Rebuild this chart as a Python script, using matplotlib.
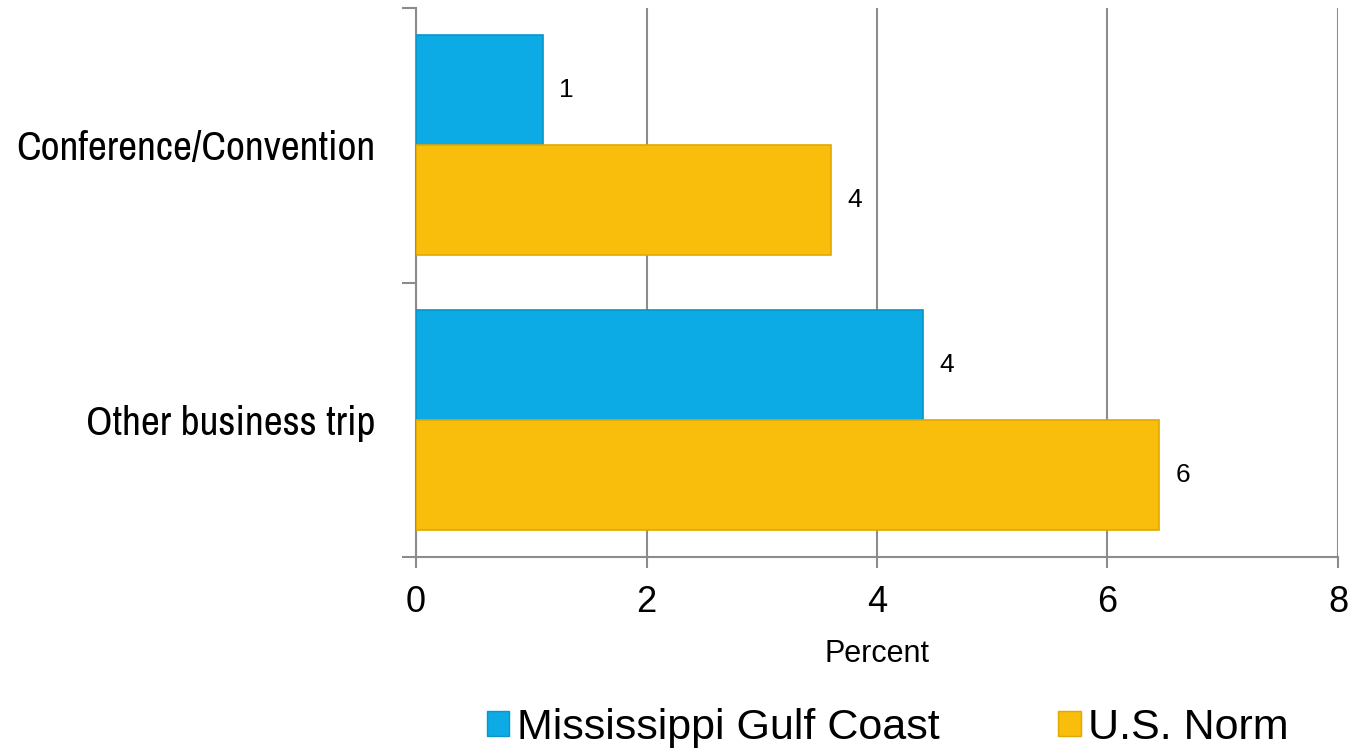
import matplotlib.pyplot as plt
from matplotlib.patches import Patch
from matplotlib import font_manager

categories = ['Conference/Convention', 'Other business trip']
mgc_values = [1.1, 4.4]
us_values = [3.6, 6.45]
mgc_labels = ['1', '4']
us_labels = ['4', '6']
x_ticks = [0, 2, 4, 6, 8]

BLUE = '#0CABE6'
YELLOW = '#F9BD0B'
GRAY = '#8C8C8C'

# pick the narrowest-looking regular face available for the category text
def find_narrow():
    fonts = [f for f in font_manager.fontManager.ttflist
             if f.style == 'normal' and f.weight in (400, 'normal', 'regular')]
    for test in (lambda f: f.name == 'Liberation Sans Narrow',
                 lambda f: 'Narrow' in f.name,
                 lambda f: f.stretch in ('extra-condensed', 'ultra-condensed'),
                 lambda f: f.stretch == 'condensed' or 'Condensed' in f.name,
                 lambda f: f.stretch == 'semi-condensed'):
        for f in fonts:
            if test(f):
                return font_manager.FontProperties(fname=f.fname)
    return font_manager.FontProperties(family='Liberation Sans')

plt.rcParams['font.family'] = ['Liberation Sans', 'DejaVu Sans']
narrow = find_narrow()

fig = plt.figure(figsize=(13.53, 7.48), dpi=100)
ax = fig.add_axes([0.3075, 0.2553, 0.6814, 0.734])

# fit the category text to the reference width (~360 px for the longest label)
renderer = fig.canvas.get_renderer()
probe_font = narrow.copy()
probe_font.set_size(30)
probe = fig.text(0, 0, categories[0], fontproperties=probe_font)
w = probe.get_window_extent(renderer).width
probe.remove()
cat_size = min(30, 30 * 360 / w)
cat_font = narrow.copy()
cat_font.set_size(cat_size)

centers = [1, 0]
h = 0.4
for i, cat in enumerate(categories):
    yc = centers[i]
    ax.barh(yc + h / 2, mgc_values[i], height=h, color=BLUE,
            edgecolor='#0995C9', linewidth=1.2, zorder=3)
    ax.barh(yc - h / 2, us_values[i], height=h, color=YELLOW,
            edgecolor='#E0A800', linewidth=1.2, zorder=3)
    ax.annotate(mgc_labels[i], (mgc_values[i], yc + h / 2), xytext=(12, 0),
                textcoords='offset points', va='center', ha='left', fontsize=19)
    ax.annotate(us_labels[i], (us_values[i], yc - h / 2), xytext=(12, 0),
                textcoords='offset points', va='center', ha='left', fontsize=19)

ax.set_xlim(0, 8)
ax.set_ylim(-0.5, 1.5)
ax.set_xticks(x_ticks)
ax.set_xticklabels([str(t) for t in x_ticks], fontsize=26)
ax.set_yticks([-0.5, 0.5, 1.5])
ax.set_yticklabels([])
ax.set_yticks(centers, minor=True)
ax.set_yticklabels(categories, minor=True, fontproperties=cat_font)
ax.tick_params(axis='y', which='minor', length=0, pad=29)
ax.tick_params(axis='y', which='major', length=10, width=1.5, color=GRAY)
ax.tick_params(axis='x', length=8, width=1.5, color=GRAY, pad=12)

ax.grid(axis='x', color=GRAY, linewidth=1.5, zorder=0)
ax.set_axisbelow(True)
for s in ['top', 'right']:
    ax.spines[s].set_visible(False)
for s in ['left', 'bottom']:
    ax.spines[s].set_color(GRAY)
    ax.spines[s].set_linewidth(1.5)

ax.set_xlabel('Percent', fontsize=22, labelpad=14)

handles = [Patch(facecolor=BLUE, edgecolor='#0995C9', label='Mississippi Gulf Coast'),
           Patch(facecolor=YELLOW, edgecolor='#E0A800', label='U.S. Norm')]
leg = fig.legend(handles=handles, loc='center', bbox_to_anchor=(0.656, 0.027), ncol=2,
                 frameon=False, handlelength=0.53, handleheight=0.53, handletextpad=0.17,
                 columnspacing=2.75, borderpad=0, prop={'family': 'Liberation Sans', 'size': 31})

fig.savefig('out.png', dpi=100)
